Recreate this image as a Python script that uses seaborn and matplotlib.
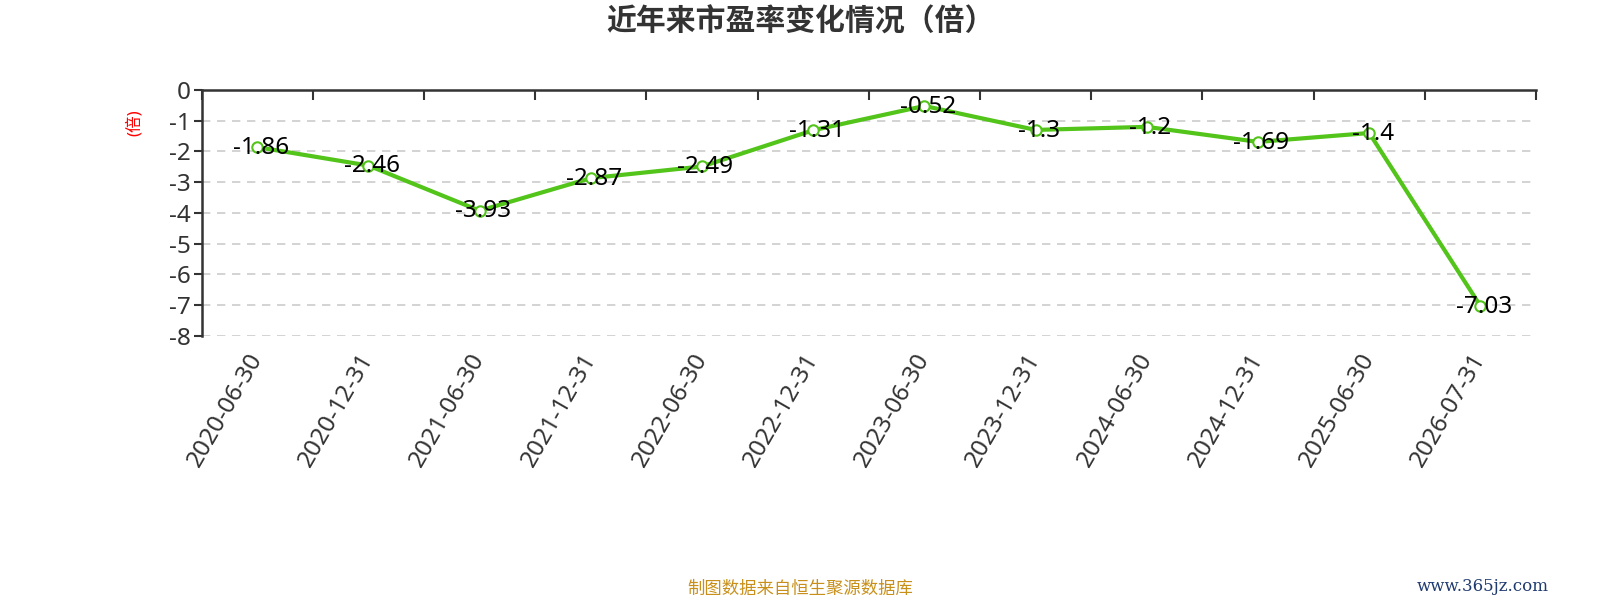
import matplotlib.pyplot as plt
import seaborn as sns
import pandas as pd
from matplotlib.ticker import FixedLocator

dates = ["2020-06-30", "2020-12-31", "2021-06-30", "2021-12-31", "2022-06-30", "2022-12-31",
         "2023-06-30", "2023-12-31", "2024-06-30", "2024-12-31", "2025-06-30", "2026-07-31"]
pe_values = [-1.86, -2.46, -3.93, -2.87, -2.49, -1.31, -0.52, -1.3, -1.2, -1.69, -1.4, -7.03]
value_labels = ["-1.86", "-2.46", "-3.93", "-2.87", "-2.49", "-1.31", "-0.52", "-1.3", "-1.2",
                "-1.69", "-1.4", "-7.03"]
y_ticks = [0, -1, -2, -3, -4, -5, -6, -7, -8]

sns.set_style("white")
plt.rcParams['font.family'] = ['Noto Sans', 'Noto Sans CJK SC', 'DejaVu Sans']

df = pd.DataFrame({"pos": range(len(dates)), "pe": pe_values})

fig = plt.figure(figsize=(16, 6), dpi=100)
ax = fig.add_axes([0.126, 0.4405, 0.834, 0.4095])

green = "#52c41a"
sns.lineplot(data=df, x="pos", y="pe", ax=ax, color=green, linewidth=3, zorder=3,
             marker="o", markersize=7.5, markerfacecolor="white", markeredgecolor=green,
             markeredgewidth=1.5)

for i, (v, t) in enumerate(zip(pe_values, value_labels)):
    ax.annotate(t, (i, v), xytext=(2.5, -0.5), textcoords="offset points", ha="center",
                va="center", fontsize=17.5, color="black", zorder=4)

ax.set_xlim(-0.5, len(dates) - 0.5)
ax.set_ylim(-8, 0)
ax.set_yticks(y_ticks)
ax.set_yticklabels([str(t) for t in y_ticks])
for t in y_ticks[1:]:
    ax.axhline(t, color="#cccccc", linestyle=(0, (5, 4)), linewidth=1.2, zorder=1)

ax.set_xticks(range(len(dates)))
ax.set_xticklabels(dates, rotation=60, ha="right", va="center", rotation_mode="anchor")
ax.xaxis.set_minor_locator(FixedLocator([i - 0.5 for i in range(len(dates) + 1)]))
ax.tick_params(axis="x", which="major", bottom=True, length=0, pad=14, labelsize=17.5,
               labelcolor="#333333")
ax.tick_params(axis="x", which="minor", top=True, bottom=False, direction="in", length=7,
               width=1.5, color="#333333")
ax.tick_params(axis="y", left=True, direction="out", length=6, width=1.5, color="#333333",
               labelsize=17.5, labelcolor="#333333", pad=2)

for s in ["right", "bottom"]:
    ax.spines[s].set_visible(False)
ax.spines["top"].set_color("#333333")
ax.spines["top"].set_linewidth(1.8)
ax.spines["left"].set_color("#333333")
ax.spines["left"].set_linewidth(1.8)

ax.set_xlabel("")
ax.set_ylabel("")
fig.text(0.084, 0.795, "(倍)", rotation=90, color="red", fontsize=12, ha="center", va="center")

fig.text(0.5, 0.962, "近年来市盈率变化情况（倍）", fontsize=21.5, fontweight="bold", color="#333333",
         ha="center", va="center")
fig.text(0.5, 0.018, "制图数据来自恒生聚源数据库", fontsize=12.5, color="#c8901a",
         ha="center", va="center")
fig.text(0.968, 0.022, "www.365jz.com", fontsize=12, color="#1f3a6e", family="DejaVu Serif",
         ha="right", va="center")

fig.savefig("out.png", dpi=100, facecolor="white")
